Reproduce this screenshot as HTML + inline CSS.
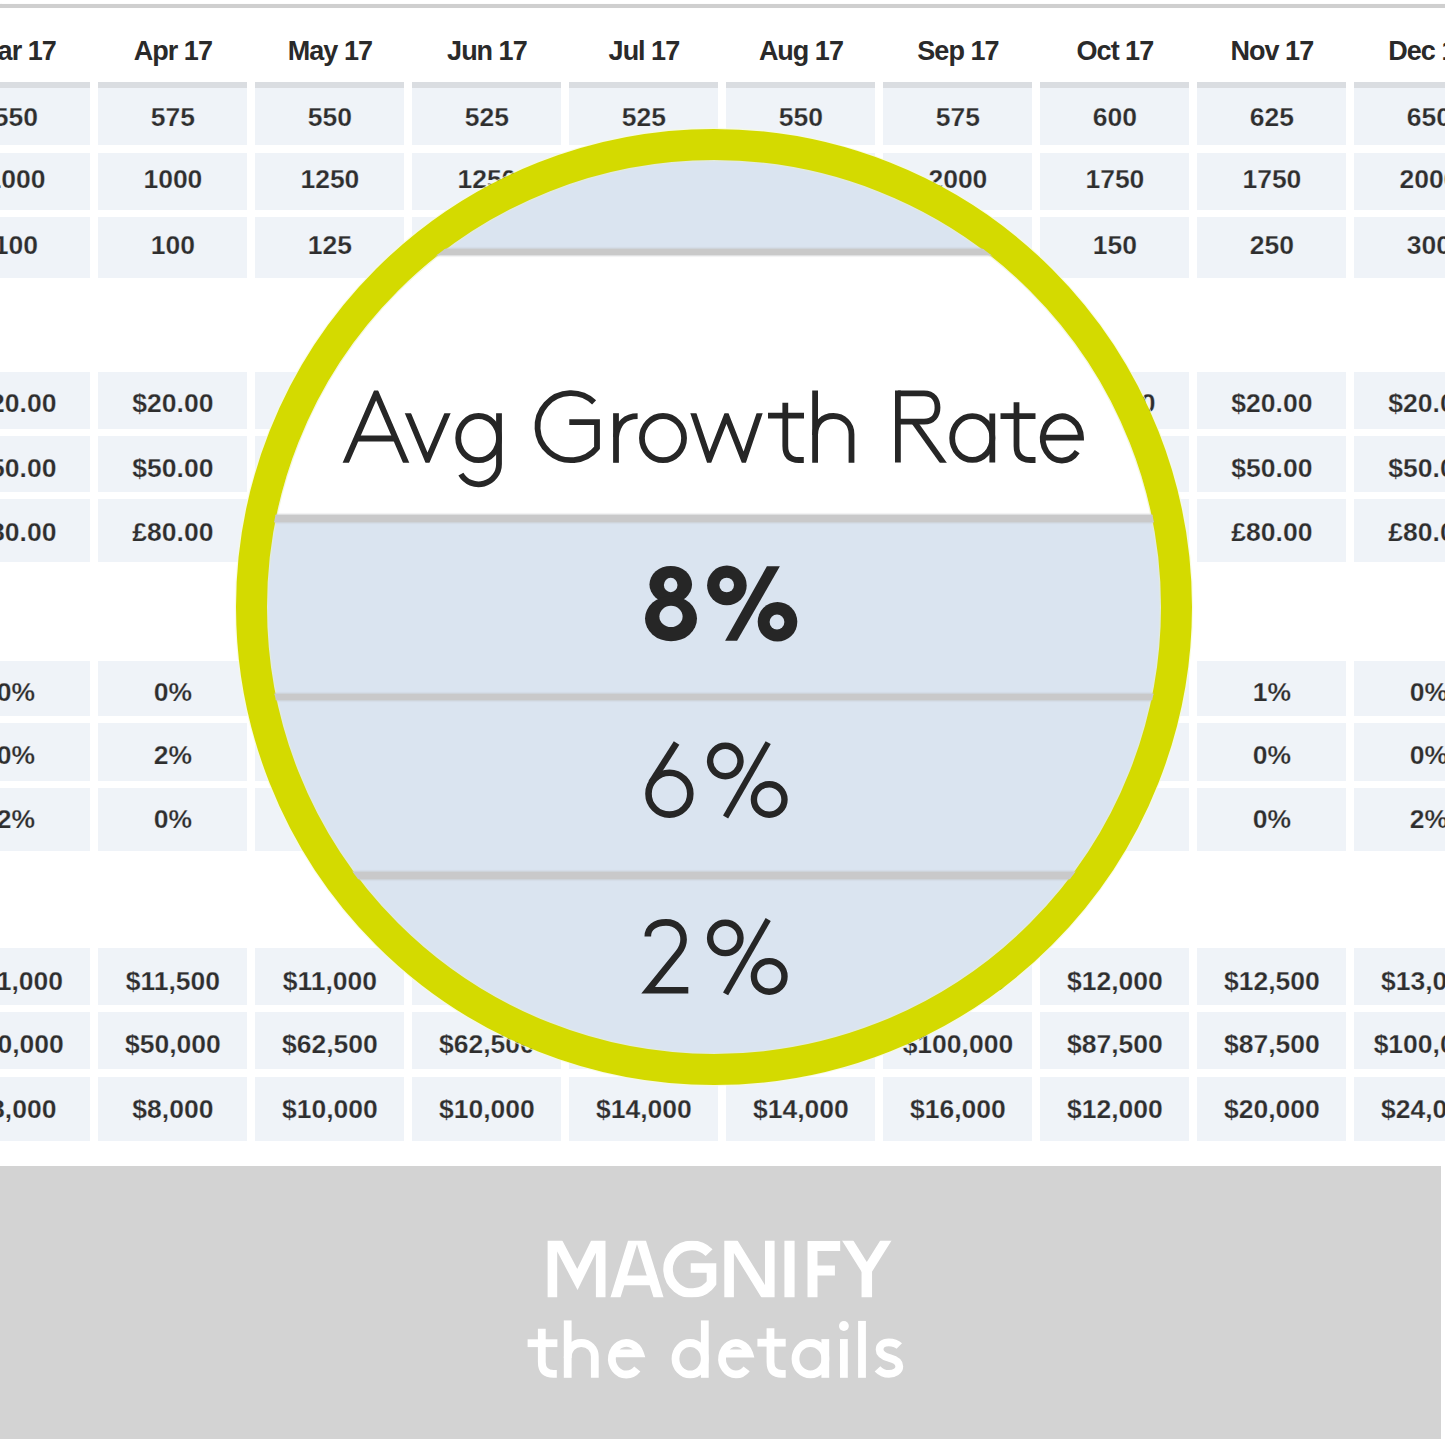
<!DOCTYPE html>
<html><head><meta charset="utf-8"><title>Magnify the details</title>
<style>
html,body{margin:0;padding:0;overflow:hidden;width:1445px;height:1439px;}
#root{position:relative;width:1445px;height:1439px;overflow:hidden;background:#fff;}
body{background:#fff;font-family:"Liberation Sans",sans-serif;}
.topline{position:absolute;left:0;top:4px;width:1445px;height:4px;background:#cfcfcf;box-shadow:0 0 1.5px 0.3px rgba(207,207,207,0.8);}
.h{position:absolute;width:200px;text-align:center;font-weight:bold;font-size:27px;line-height:30px;color:#2a2a2a;letter-spacing:-1px;white-space:nowrap;}
.c{position:absolute;background:#eff3f8;}
.t{position:absolute;width:200px;text-align:center;font-weight:bold;font-size:26.5px;line-height:30px;color:#2e2e2e;white-space:nowrap;-webkit-text-stroke:0.25px #eff3f8;}
.hb{position:absolute;background:#dadde1;height:5.5px;}
.lens{position:absolute;border-radius:50%;overflow:hidden;background:#dae4f0;}
.ring{position:absolute;border-radius:50%;border:31px solid #d4da00;box-sizing:border-box;box-shadow:0 0 0 1.2px rgba(248,252,215,0.75), inset 0 0 0 1.2px rgba(235,242,200,0.6);}
.band{position:absolute;left:0;width:1445px;}
.banner{position:absolute;left:0;top:1166px;width:1441px;height:273px;background:#d3d3d3;}
.b1{position:absolute;left:0;width:1441px;text-align:center;color:#fff;font-weight:bold;font-size:80px;line-height:80px;white-space:nowrap;}
.b2{position:absolute;left:0;width:1441px;text-align:center;color:#fff;font-size:80px;line-height:80px;white-space:nowrap;}
</style></head><body><div id="root">
<div class="topline"></div>

<div class="h" style="left:-84.1px;top:36.0px">Mar 17</div>
<div class="h" style="left:72.9px;top:36.0px">Apr 17</div>
<div class="h" style="left:229.9px;top:36.0px">May 17</div>
<div class="h" style="left:386.9px;top:36.0px">Jun 17</div>
<div class="h" style="left:543.9px;top:36.0px">Jul 17</div>
<div class="h" style="left:700.9px;top:36.0px">Aug 17</div>
<div class="h" style="left:857.9px;top:36.0px">Sep 17</div>
<div class="h" style="left:1014.9px;top:36.0px">Oct 17</div>
<div class="h" style="left:1171.9px;top:36.0px">Nov 17</div>
<div class="h" style="left:1328.9px;top:36.0px">Dec 17</div>
<div class="c" style="left:-58.6px;top:82.0px;width:149.0px;height:62.5px"></div>
<div class="t" style="left:-84.1px;top:101.7px">550</div>
<div class="c" style="left:98.4px;top:82.0px;width:149.0px;height:62.5px"></div>
<div class="t" style="left:72.9px;top:101.7px">575</div>
<div class="c" style="left:255.4px;top:82.0px;width:149.0px;height:62.5px"></div>
<div class="t" style="left:229.9px;top:101.7px">550</div>
<div class="c" style="left:412.4px;top:82.0px;width:149.0px;height:62.5px"></div>
<div class="t" style="left:386.9px;top:101.7px">525</div>
<div class="c" style="left:569.4px;top:82.0px;width:149.0px;height:62.5px"></div>
<div class="t" style="left:543.9px;top:101.7px">525</div>
<div class="c" style="left:726.4px;top:82.0px;width:149.0px;height:62.5px"></div>
<div class="t" style="left:700.9px;top:101.7px">550</div>
<div class="c" style="left:883.4px;top:82.0px;width:149.0px;height:62.5px"></div>
<div class="t" style="left:857.9px;top:101.7px">575</div>
<div class="c" style="left:1040.4px;top:82.0px;width:149.0px;height:62.5px"></div>
<div class="t" style="left:1014.9px;top:101.7px">600</div>
<div class="c" style="left:1197.4px;top:82.0px;width:149.0px;height:62.5px"></div>
<div class="t" style="left:1171.9px;top:101.7px">625</div>
<div class="c" style="left:1354.4px;top:82.0px;width:149.0px;height:62.5px"></div>
<div class="t" style="left:1328.9px;top:101.7px">650</div>
<div class="hb" style="left:-58.6px;top:82px;width:149.0px"></div>
<div class="hb" style="left:98.4px;top:82px;width:149.0px"></div>
<div class="hb" style="left:255.4px;top:82px;width:149.0px"></div>
<div class="hb" style="left:412.4px;top:82px;width:149.0px"></div>
<div class="hb" style="left:569.4px;top:82px;width:149.0px"></div>
<div class="hb" style="left:726.4px;top:82px;width:149.0px"></div>
<div class="hb" style="left:883.4px;top:82px;width:149.0px"></div>
<div class="hb" style="left:1040.4px;top:82px;width:149.0px"></div>
<div class="hb" style="left:1197.4px;top:82px;width:149.0px"></div>
<div class="hb" style="left:1354.4px;top:82px;width:149.0px"></div>
<div class="c" style="left:-58.6px;top:152.5px;width:149.0px;height:57.0px"></div>
<div class="t" style="left:-84.1px;top:164.4px">1000</div>
<div class="c" style="left:98.4px;top:152.5px;width:149.0px;height:57.0px"></div>
<div class="t" style="left:72.9px;top:164.4px">1000</div>
<div class="c" style="left:255.4px;top:152.5px;width:149.0px;height:57.0px"></div>
<div class="t" style="left:229.9px;top:164.4px">1250</div>
<div class="c" style="left:412.4px;top:152.5px;width:149.0px;height:57.0px"></div>
<div class="t" style="left:386.9px;top:164.4px">1250</div>
<div class="c" style="left:569.4px;top:152.5px;width:149.0px;height:57.0px"></div>
<div class="t" style="left:543.9px;top:164.4px">1500</div>
<div class="c" style="left:726.4px;top:152.5px;width:149.0px;height:57.0px"></div>
<div class="t" style="left:700.9px;top:164.4px">1750</div>
<div class="c" style="left:883.4px;top:152.5px;width:149.0px;height:57.0px"></div>
<div class="t" style="left:857.9px;top:164.4px">2000</div>
<div class="c" style="left:1040.4px;top:152.5px;width:149.0px;height:57.0px"></div>
<div class="t" style="left:1014.9px;top:164.4px">1750</div>
<div class="c" style="left:1197.4px;top:152.5px;width:149.0px;height:57.0px"></div>
<div class="t" style="left:1171.9px;top:164.4px">1750</div>
<div class="c" style="left:1354.4px;top:152.5px;width:149.0px;height:57.0px"></div>
<div class="t" style="left:1328.9px;top:164.4px">2000</div>
<div class="c" style="left:-58.6px;top:216.5px;width:149.0px;height:61.0px"></div>
<div class="t" style="left:-84.1px;top:229.5px">100</div>
<div class="c" style="left:98.4px;top:216.5px;width:149.0px;height:61.0px"></div>
<div class="t" style="left:72.9px;top:229.5px">100</div>
<div class="c" style="left:255.4px;top:216.5px;width:149.0px;height:61.0px"></div>
<div class="t" style="left:229.9px;top:229.5px">125</div>
<div class="c" style="left:412.4px;top:216.5px;width:149.0px;height:61.0px"></div>
<div class="t" style="left:386.9px;top:229.5px">125</div>
<div class="c" style="left:569.4px;top:216.5px;width:149.0px;height:61.0px"></div>
<div class="t" style="left:543.9px;top:229.5px">150</div>
<div class="c" style="left:726.4px;top:216.5px;width:149.0px;height:61.0px"></div>
<div class="t" style="left:700.9px;top:229.5px">150</div>
<div class="c" style="left:883.4px;top:216.5px;width:149.0px;height:61.0px"></div>
<div class="t" style="left:857.9px;top:229.5px">200</div>
<div class="c" style="left:1040.4px;top:216.5px;width:149.0px;height:61.0px"></div>
<div class="t" style="left:1014.9px;top:229.5px">150</div>
<div class="c" style="left:1197.4px;top:216.5px;width:149.0px;height:61.0px"></div>
<div class="t" style="left:1171.9px;top:229.5px">250</div>
<div class="c" style="left:1354.4px;top:216.5px;width:149.0px;height:61.0px"></div>
<div class="t" style="left:1328.9px;top:229.5px">300</div>
<div class="c" style="left:-58.6px;top:372.0px;width:149.0px;height:56.5px"></div>
<div class="t" style="left:-84.1px;top:388.0px">$20.00</div>
<div class="c" style="left:98.4px;top:372.0px;width:149.0px;height:56.5px"></div>
<div class="t" style="left:72.9px;top:388.0px">$20.00</div>
<div class="c" style="left:255.4px;top:372.0px;width:149.0px;height:56.5px"></div>
<div class="t" style="left:229.9px;top:388.0px">$20.00</div>
<div class="c" style="left:412.4px;top:372.0px;width:149.0px;height:56.5px"></div>
<div class="t" style="left:386.9px;top:388.0px">$20.00</div>
<div class="c" style="left:569.4px;top:372.0px;width:149.0px;height:56.5px"></div>
<div class="t" style="left:543.9px;top:388.0px">$20.00</div>
<div class="c" style="left:726.4px;top:372.0px;width:149.0px;height:56.5px"></div>
<div class="t" style="left:700.9px;top:388.0px">$20.00</div>
<div class="c" style="left:883.4px;top:372.0px;width:149.0px;height:56.5px"></div>
<div class="t" style="left:857.9px;top:388.0px">$20.00</div>
<div class="c" style="left:1040.4px;top:372.0px;width:149.0px;height:56.5px"></div>
<div class="t" style="left:1014.9px;top:388.0px">$20.00</div>
<div class="c" style="left:1197.4px;top:372.0px;width:149.0px;height:56.5px"></div>
<div class="t" style="left:1171.9px;top:388.0px">$20.00</div>
<div class="c" style="left:1354.4px;top:372.0px;width:149.0px;height:56.5px"></div>
<div class="t" style="left:1328.9px;top:388.0px">$20.00</div>
<div class="c" style="left:-58.6px;top:436.0px;width:149.0px;height:56.0px"></div>
<div class="t" style="left:-84.1px;top:452.7px">$50.00</div>
<div class="c" style="left:98.4px;top:436.0px;width:149.0px;height:56.0px"></div>
<div class="t" style="left:72.9px;top:452.7px">$50.00</div>
<div class="c" style="left:255.4px;top:436.0px;width:149.0px;height:56.0px"></div>
<div class="t" style="left:229.9px;top:452.7px">$50.00</div>
<div class="c" style="left:412.4px;top:436.0px;width:149.0px;height:56.0px"></div>
<div class="t" style="left:386.9px;top:452.7px">$50.00</div>
<div class="c" style="left:569.4px;top:436.0px;width:149.0px;height:56.0px"></div>
<div class="t" style="left:543.9px;top:452.7px">$50.00</div>
<div class="c" style="left:726.4px;top:436.0px;width:149.0px;height:56.0px"></div>
<div class="t" style="left:700.9px;top:452.7px">$50.00</div>
<div class="c" style="left:883.4px;top:436.0px;width:149.0px;height:56.0px"></div>
<div class="t" style="left:857.9px;top:452.7px">$50.00</div>
<div class="c" style="left:1040.4px;top:436.0px;width:149.0px;height:56.0px"></div>
<div class="t" style="left:1014.9px;top:452.7px">$50.00</div>
<div class="c" style="left:1197.4px;top:436.0px;width:149.0px;height:56.0px"></div>
<div class="t" style="left:1171.9px;top:452.7px">$50.00</div>
<div class="c" style="left:1354.4px;top:436.0px;width:149.0px;height:56.0px"></div>
<div class="t" style="left:1328.9px;top:452.7px">$50.00</div>
<div class="c" style="left:-58.6px;top:499.0px;width:149.0px;height:63.0px"></div>
<div class="t" style="left:-84.1px;top:516.5px">£80.00</div>
<div class="c" style="left:98.4px;top:499.0px;width:149.0px;height:63.0px"></div>
<div class="t" style="left:72.9px;top:516.5px">£80.00</div>
<div class="c" style="left:255.4px;top:499.0px;width:149.0px;height:63.0px"></div>
<div class="t" style="left:229.9px;top:516.5px">£80.00</div>
<div class="c" style="left:412.4px;top:499.0px;width:149.0px;height:63.0px"></div>
<div class="t" style="left:386.9px;top:516.5px">£80.00</div>
<div class="c" style="left:569.4px;top:499.0px;width:149.0px;height:63.0px"></div>
<div class="t" style="left:543.9px;top:516.5px">£80.00</div>
<div class="c" style="left:726.4px;top:499.0px;width:149.0px;height:63.0px"></div>
<div class="t" style="left:700.9px;top:516.5px">£80.00</div>
<div class="c" style="left:883.4px;top:499.0px;width:149.0px;height:63.0px"></div>
<div class="t" style="left:857.9px;top:516.5px">£80.00</div>
<div class="c" style="left:1040.4px;top:499.0px;width:149.0px;height:63.0px"></div>
<div class="t" style="left:1014.9px;top:516.5px">£80.00</div>
<div class="c" style="left:1197.4px;top:499.0px;width:149.0px;height:63.0px"></div>
<div class="t" style="left:1171.9px;top:516.5px">£80.00</div>
<div class="c" style="left:1354.4px;top:499.0px;width:149.0px;height:63.0px"></div>
<div class="t" style="left:1328.9px;top:516.5px">£80.00</div>
<div class="c" style="left:-58.6px;top:661.0px;width:149.0px;height:54.5px"></div>
<div class="t" style="left:-84.1px;top:677.0px">0%</div>
<div class="c" style="left:98.4px;top:661.0px;width:149.0px;height:54.5px"></div>
<div class="t" style="left:72.9px;top:677.0px">0%</div>
<div class="c" style="left:255.4px;top:661.0px;width:149.0px;height:54.5px"></div>
<div class="t" style="left:229.9px;top:677.0px">0%</div>
<div class="c" style="left:412.4px;top:661.0px;width:149.0px;height:54.5px"></div>
<div class="t" style="left:386.9px;top:677.0px">0%</div>
<div class="c" style="left:569.4px;top:661.0px;width:149.0px;height:54.5px"></div>
<div class="t" style="left:543.9px;top:677.0px">0%</div>
<div class="c" style="left:726.4px;top:661.0px;width:149.0px;height:54.5px"></div>
<div class="t" style="left:700.9px;top:677.0px">0%</div>
<div class="c" style="left:883.4px;top:661.0px;width:149.0px;height:54.5px"></div>
<div class="t" style="left:857.9px;top:677.0px">0%</div>
<div class="c" style="left:1040.4px;top:661.0px;width:149.0px;height:54.5px"></div>
<div class="t" style="left:1014.9px;top:677.0px">0%</div>
<div class="c" style="left:1197.4px;top:661.0px;width:149.0px;height:54.5px"></div>
<div class="t" style="left:1171.9px;top:677.0px">1%</div>
<div class="c" style="left:1354.4px;top:661.0px;width:149.0px;height:54.5px"></div>
<div class="t" style="left:1328.9px;top:677.0px">0%</div>
<div class="c" style="left:-58.6px;top:722.5px;width:149.0px;height:58.0px"></div>
<div class="t" style="left:-84.1px;top:740.0px">0%</div>
<div class="c" style="left:98.4px;top:722.5px;width:149.0px;height:58.0px"></div>
<div class="t" style="left:72.9px;top:740.0px">2%</div>
<div class="c" style="left:255.4px;top:722.5px;width:149.0px;height:58.0px"></div>
<div class="t" style="left:229.9px;top:740.0px">0%</div>
<div class="c" style="left:412.4px;top:722.5px;width:149.0px;height:58.0px"></div>
<div class="t" style="left:386.9px;top:740.0px">0%</div>
<div class="c" style="left:569.4px;top:722.5px;width:149.0px;height:58.0px"></div>
<div class="t" style="left:543.9px;top:740.0px">0%</div>
<div class="c" style="left:726.4px;top:722.5px;width:149.0px;height:58.0px"></div>
<div class="t" style="left:700.9px;top:740.0px">0%</div>
<div class="c" style="left:883.4px;top:722.5px;width:149.0px;height:58.0px"></div>
<div class="t" style="left:857.9px;top:740.0px">0%</div>
<div class="c" style="left:1040.4px;top:722.5px;width:149.0px;height:58.0px"></div>
<div class="t" style="left:1014.9px;top:740.0px">0%</div>
<div class="c" style="left:1197.4px;top:722.5px;width:149.0px;height:58.0px"></div>
<div class="t" style="left:1171.9px;top:740.0px">0%</div>
<div class="c" style="left:1354.4px;top:722.5px;width:149.0px;height:58.0px"></div>
<div class="t" style="left:1328.9px;top:740.0px">0%</div>
<div class="c" style="left:-58.6px;top:787.5px;width:149.0px;height:63.5px"></div>
<div class="t" style="left:-84.1px;top:804.2px">2%</div>
<div class="c" style="left:98.4px;top:787.5px;width:149.0px;height:63.5px"></div>
<div class="t" style="left:72.9px;top:804.2px">0%</div>
<div class="c" style="left:255.4px;top:787.5px;width:149.0px;height:63.5px"></div>
<div class="t" style="left:229.9px;top:804.2px">0%</div>
<div class="c" style="left:412.4px;top:787.5px;width:149.0px;height:63.5px"></div>
<div class="t" style="left:386.9px;top:804.2px">0%</div>
<div class="c" style="left:569.4px;top:787.5px;width:149.0px;height:63.5px"></div>
<div class="t" style="left:543.9px;top:804.2px">0%</div>
<div class="c" style="left:726.4px;top:787.5px;width:149.0px;height:63.5px"></div>
<div class="t" style="left:700.9px;top:804.2px">0%</div>
<div class="c" style="left:883.4px;top:787.5px;width:149.0px;height:63.5px"></div>
<div class="t" style="left:857.9px;top:804.2px">0%</div>
<div class="c" style="left:1040.4px;top:787.5px;width:149.0px;height:63.5px"></div>
<div class="t" style="left:1014.9px;top:804.2px">0%</div>
<div class="c" style="left:1197.4px;top:787.5px;width:149.0px;height:63.5px"></div>
<div class="t" style="left:1171.9px;top:804.2px">0%</div>
<div class="c" style="left:1354.4px;top:787.5px;width:149.0px;height:63.5px"></div>
<div class="t" style="left:1328.9px;top:804.2px">2%</div>
<div class="c" style="left:-58.6px;top:947.5px;width:149.0px;height:57.0px"></div>
<div class="t" style="left:-84.1px;top:966.0px">$11,000</div>
<div class="c" style="left:98.4px;top:947.5px;width:149.0px;height:57.0px"></div>
<div class="t" style="left:72.9px;top:966.0px">$11,500</div>
<div class="c" style="left:255.4px;top:947.5px;width:149.0px;height:57.0px"></div>
<div class="t" style="left:229.9px;top:966.0px">$11,000</div>
<div class="c" style="left:412.4px;top:947.5px;width:149.0px;height:57.0px"></div>
<div class="t" style="left:386.9px;top:966.0px">$11,500</div>
<div class="c" style="left:569.4px;top:947.5px;width:149.0px;height:57.0px"></div>
<div class="t" style="left:543.9px;top:966.0px">$12,000</div>
<div class="c" style="left:726.4px;top:947.5px;width:149.0px;height:57.0px"></div>
<div class="t" style="left:700.9px;top:966.0px">$11,500</div>
<div class="c" style="left:883.4px;top:947.5px;width:149.0px;height:57.0px"></div>
<div class="t" style="left:857.9px;top:966.0px">$12,000</div>
<div class="c" style="left:1040.4px;top:947.5px;width:149.0px;height:57.0px"></div>
<div class="t" style="left:1014.9px;top:966.0px">$12,000</div>
<div class="c" style="left:1197.4px;top:947.5px;width:149.0px;height:57.0px"></div>
<div class="t" style="left:1171.9px;top:966.0px">$12,500</div>
<div class="c" style="left:1354.4px;top:947.5px;width:149.0px;height:57.0px"></div>
<div class="t" style="left:1328.9px;top:966.0px">$13,000</div>
<div class="c" style="left:-58.6px;top:1011.5px;width:149.0px;height:57.0px"></div>
<div class="t" style="left:-84.1px;top:1029.0px">$50,000</div>
<div class="c" style="left:98.4px;top:1011.5px;width:149.0px;height:57.0px"></div>
<div class="t" style="left:72.9px;top:1029.0px">$50,000</div>
<div class="c" style="left:255.4px;top:1011.5px;width:149.0px;height:57.0px"></div>
<div class="t" style="left:229.9px;top:1029.0px">$62,500</div>
<div class="c" style="left:412.4px;top:1011.5px;width:149.0px;height:57.0px"></div>
<div class="t" style="left:386.9px;top:1029.0px">$62,500</div>
<div class="c" style="left:569.4px;top:1011.5px;width:149.0px;height:57.0px"></div>
<div class="t" style="left:543.9px;top:1029.0px">$87,500</div>
<div class="c" style="left:726.4px;top:1011.5px;width:149.0px;height:57.0px"></div>
<div class="t" style="left:700.9px;top:1029.0px">$87,500</div>
<div class="c" style="left:883.4px;top:1011.5px;width:149.0px;height:57.0px"></div>
<div class="t" style="left:857.9px;top:1029.0px">$100,000</div>
<div class="c" style="left:1040.4px;top:1011.5px;width:149.0px;height:57.0px"></div>
<div class="t" style="left:1014.9px;top:1029.0px">$87,500</div>
<div class="c" style="left:1197.4px;top:1011.5px;width:149.0px;height:57.0px"></div>
<div class="t" style="left:1171.9px;top:1029.0px">$87,500</div>
<div class="c" style="left:1354.4px;top:1011.5px;width:149.0px;height:57.0px"></div>
<div class="t" style="left:1328.9px;top:1029.0px">$100,000</div>
<div class="c" style="left:-58.6px;top:1076.5px;width:149.0px;height:64.5px"></div>
<div class="t" style="left:-84.1px;top:1094.0px">$8,000</div>
<div class="c" style="left:98.4px;top:1076.5px;width:149.0px;height:64.5px"></div>
<div class="t" style="left:72.9px;top:1094.0px">$8,000</div>
<div class="c" style="left:255.4px;top:1076.5px;width:149.0px;height:64.5px"></div>
<div class="t" style="left:229.9px;top:1094.0px">$10,000</div>
<div class="c" style="left:412.4px;top:1076.5px;width:149.0px;height:64.5px"></div>
<div class="t" style="left:386.9px;top:1094.0px">$10,000</div>
<div class="c" style="left:569.4px;top:1076.5px;width:149.0px;height:64.5px"></div>
<div class="t" style="left:543.9px;top:1094.0px">$14,000</div>
<div class="c" style="left:726.4px;top:1076.5px;width:149.0px;height:64.5px"></div>
<div class="t" style="left:700.9px;top:1094.0px">$14,000</div>
<div class="c" style="left:883.4px;top:1076.5px;width:149.0px;height:64.5px"></div>
<div class="t" style="left:857.9px;top:1094.0px">$16,000</div>
<div class="c" style="left:1040.4px;top:1076.5px;width:149.0px;height:64.5px"></div>
<div class="t" style="left:1014.9px;top:1094.0px">$12,000</div>
<div class="c" style="left:1197.4px;top:1076.5px;width:149.0px;height:64.5px"></div>
<div class="t" style="left:1171.9px;top:1094.0px">$20,000</div>
<div class="c" style="left:1354.4px;top:1076.5px;width:149.0px;height:64.5px"></div>
<div class="t" style="left:1328.9px;top:1094.0px">$24,000</div>
<div class="lens" style="left:265.5px;top:159.0px;width:896.0px;height:896.0px">
<div class="band" style="left:-265.5px;top:-59.0px;width:1445px;height:149.0px;background:#dae4f0;"></div>
<div class="band" style="left:-265.5px;top:90.0px;width:1445px;height:6.0px;background:#c9c9c9;box-shadow:0 0 1.6px 0.6px rgba(196,197,200,0.75);z-index:1;"></div>
<div class="band" style="left:-265.5px;top:96.0px;width:1445px;height:260.0px;background:#ffffff;"></div>
<div class="band" style="left:-265.5px;top:356.0px;width:1445px;height:7.0px;background:#c9c9ca;box-shadow:0 0 1.6px 0.6px rgba(196,197,200,0.75);z-index:1;"></div>
<div class="band" style="left:-265.5px;top:363.0px;width:1445px;height:172.0px;background:#dae4f0;"></div>
<div class="band" style="left:-265.5px;top:535.0px;width:1445px;height:6.0px;background:#c9c9ca;box-shadow:0 0 1.6px 0.6px rgba(196,197,200,0.75);z-index:1;"></div>
<div class="band" style="left:-265.5px;top:541.0px;width:1445px;height:172.0px;background:#dae4f0;"></div>
<div class="band" style="left:-265.5px;top:713.0px;width:1445px;height:7.0px;background:#c9c9ca;box-shadow:0 0 1.6px 0.6px rgba(196,197,200,0.75);z-index:1;"></div>
<div class="band" style="left:-265.5px;top:720.0px;width:1445px;height:221.0px;background:#dae4f0;"></div>
<svg style="position:absolute;left:-265.5px;top:-159.0px" width="1445" height="1439" viewBox="0 0 1445 1439"><ellipse cx="670.75" cy="584.5" rx="21.3" ry="18.6" fill="#262626"/><ellipse cx="671" cy="618.6" rx="26" ry="22.7" fill="#262626"/><ellipse cx="670.7" cy="585" rx="6.8" ry="7.2" fill="#dae4f0"/><ellipse cx="671" cy="616.4" rx="11.6" ry="10.6" fill="#dae4f0"/><circle cx="726.9" cy="585.4" r="19.8" fill="#262626"/><circle cx="726.7" cy="585" r="7.3" fill="#dae4f0"/><circle cx="777.5" cy="621.8" r="19.8" fill="#262626"/><circle cx="777" cy="622" r="7.4" fill="#dae4f0"/><polygon points="766.9,566.2 779.9,566.2 737.1,640.8 725.1,640.8" fill="#262626"/><circle cx="669.4" cy="793.7" r="20.9" fill="none" stroke="#262626" stroke-width="6.6"/><path d="M676.6,743 L651.2,782.8" stroke="#262626" stroke-width="6.6" fill="none"/><circle cx="725.3" cy="761.0" r="15.2" fill="none" stroke="#262626" stroke-width="6.4"/><circle cx="769.2" cy="799.5" r="15.3" fill="none" stroke="#262626" stroke-width="6.4"/><path d="M768.2,742.6 L725.6,817.0" stroke="#262626" stroke-width="5.9" fill="none"/><path d="M647.8,936.5 C647.6,927.5 655.5,922.4 666,922.4 C677,922.4 683.6,930 683.6,939.5 C683.6,945 681.5,949 678.5,952.8 L648.2,990.2 L688.3,990.2" stroke="#262626" stroke-width="6.6" fill="none" stroke-linejoin="miter"/><circle cx="725.3" cy="937.9" r="15.2" fill="none" stroke="#262626" stroke-width="6.4"/><circle cx="769.2" cy="976.4" r="15.3" fill="none" stroke="#262626" stroke-width="6.4"/><path d="M768.2,919.5 L725.6,993.9" stroke="#262626" stroke-width="5.9" fill="none"/><defs><clipPath id="capc"><rect x="300" y="390.4" width="820" height="72.4"/></clipPath><clipPath id="xc"><rect x="300" y="413.2" width="820" height="49.6"/></clipPath></defs><g fill="none" stroke="#262626" stroke-width="5.8"><g clip-path="url(#capc)"><path d="M340.5,475 L376.1,393 L411.4,475" stroke-linejoin="miter" stroke-miterlimit="10"/></g><path d="M356.5,438.5 H395.5"/><g clip-path="url(#xc)"><path d="M404.5,405 L427.5,460 L451,405" stroke-linejoin="miter" stroke-miterlimit="10"/></g><ellipse cx="478.6" cy="438.1" rx="20.4" ry="22.1"/><path d="M499,413.2 V463.9 A20.4,20.4 0 0 1 460.9,474.1"/><path d="M594.1,402.4 A33.5,33.5 0 1 0 597,447.8 V422.2 H569.3" stroke-linejoin="miter"/><path d="M616,413.2 V462.8"/><path d="M616,437 C617.5,423 626,416.1 637.6,416.1"/><ellipse cx="663" cy="438.1" rx="21.05" ry="22.1"/><g clip-path="url(#xc)"><path d="M690.6,405 L709.2,460 L726.5,416 L743.8,460 L762.4,405" stroke-linejoin="miter" stroke-miterlimit="10"/></g><path d="M785.3,402.8 V446 Q785.3,460 799,460 H803.8"/><path d="M768,415.6 H804"/><path d="M815.1,390.4 V462.8"/><path d="M815.1,435 C815.1,423 823,416 833.3,416 C844,416 851.5,424 851.5,434.2 V462.8"/><path d="M897.9,390.4 V462.6"/><path d="M897.9,393.3 H924 C933.5,393.3 937.5,400 937.5,407.5 C937.5,415 933.5,421.6 924,421.6 H897.9"/><g clip-path="url(#capc)"><path d="M913.5,421 L947,468"/></g><ellipse cx="972.3" cy="438" rx="20.1" ry="21.9"/><path d="M992.3,413.5 V462.6"/><path d="M1016.5,402.3 V446 Q1016.5,460 1030.5,460 H1035.5"/><path d="M1000.5,416.1 H1035.5"/><path d="M1041.5,437.7 H1081 A19.1,22.1 0 1 0 1077.2,451.7"/></g></svg>
</div>
<div class="ring" style="left:235.5px;top:129.0px;width:956.0px;height:956.0px"></div>
<div class="banner"></div><svg style="position:absolute;left:0;top:0" width="1445" height="1439" viewBox="0 0 1445 1439"><defs><clipPath id="bcap"><rect x="500" y="1240.8" width="420" height="56.5"/></clipPath></defs><g clip-path="url(#bcap)" fill="none" stroke="#fff" stroke-width="9.6" stroke-linejoin="miter" stroke-miterlimit="10"><path d="M552.4,1305 V1232 L577.4,1279.5 L600.7,1232 V1305"/><path d="M612.8,1306 L637,1228 L661.2,1306"/><path d="M618,1280.4 H657"/><path d="M709.1,1252.7 A23.85,23.85 0 1 0 711.5,1282.9 V1268 H690.7" stroke-linejoin="miter"/><path d="M729.1,1305 V1236 L769.8,1302 V1232"/><path d="M789.5,1232 V1305" stroke-width="10.2"/><path d="M812.5,1305 V1246.1 H840.2" stroke-width="10"/><path d="M812.5,1270.5 H834.9" stroke-width="9.8"/><path d="M843.6,1234 L866.8,1271 L890,1234"/><path d="M866.8,1268 V1305" stroke-width="10.5"/></g><g fill="none" stroke="#fff" stroke-width="7.8"><path d="M541.8,1328.7 V1362 Q541.8,1373.9 553.5,1373.9 H556.8"/><path d="M527.6,1343.2 H557.4"/><path d="M567.7,1320.4 V1377.8"/><path d="M567.7,1358 C567.7,1349 573.5,1343 581.25,1343 C589.5,1343 594.8,1349 594.8,1356.5 V1377.8"/><path d="M611.8,1353.3 H639.9 A14.45,15.8 0 1 0 637.3,1369"/><ellipse cx="690.15" cy="1358.7" rx="14.65" ry="15.7"/><path d="M704.8,1320.4 V1377.8"/><path d="M722.1,1353.5 H749.1 A13.9,15.7 0 1 0 746.6,1368.8"/><path d="M770.5,1328.2 V1362 Q770.5,1373.9 782,1373.9 H785.7"/><path d="M757.4,1342.7 H785.7"/><ellipse cx="810.45" cy="1358.7" rx="14.95" ry="15.7"/><path d="M825.3,1339.1 V1377.8"/><path d="M843.9,1339.1 V1377.8"/><circle cx="843.9" cy="1326" r="4.9" fill="#fff" stroke="none"/><path d="M862,1320.9 V1377.8"/><path d="M899.3,1346 C896,1342.8 892,1342.3 888.7,1342.3 C883,1342.3 879.6,1345.5 879.6,1349.5 C879.6,1354.5 884,1356.5 889.5,1358 C895.5,1359.5 899.3,1362 899.3,1366.5 C899.3,1371 894.5,1373.9 889,1373.9 C884,1373.9 880.5,1372 877.5,1368.8"/></g></svg>
</div></body></html>
